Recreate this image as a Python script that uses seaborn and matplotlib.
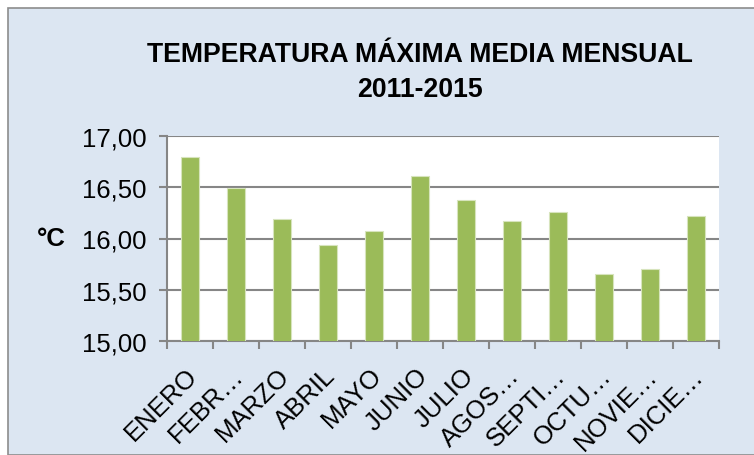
import numpy as np
import pandas as pd
import seaborn as sns
import matplotlib.pyplot as plt
import matplotlib.transforms as mtransforms
from matplotlib.ticker import FuncFormatter, FixedLocator
from matplotlib.patches import Rectangle

# Monthly mean max temperature, 2011-2015
months = ["ENERO", "FEBR…", "MARZO", "ABRIL", "MAYO", "JUNIO",
          "JULIO", "AGOS…", "SEPTI…", "OCTU…", "NOVIE…", "DICIE…"]
temps = [16.80, 16.49, 16.19, 15.94, 16.07, 16.61,
         16.38, 16.17, 16.26, 15.65, 15.70, 16.22]
y_ticks = [15.0, 15.5, 16.0, 16.5, 17.0]

df = pd.DataFrame({"Mes": months, "Temp": temps})

sns.set_style("white")
plt.rcParams["font.family"] = ["Liberation Sans", "DejaVu Sans"]
plt.rcParams["text.color"] = "black"
plt.rcParams["xtick.color"] = "black"
plt.rcParams["ytick.color"] = "black"
plt.rcParams["axes.labelcolor"] = "black"

fig = plt.figure(figsize=(7.54, 4.56), dpi=100)
fig.patch.set_facecolor("white")
# chart area background with border
bg = Rectangle((8 / 754, 0), 1, 1 - 9 / 456, transform=fig.transFigure,
               facecolor="#DCE6F2", edgecolor="#8C8C8C", linewidth=1.2, zorder=-10)
fig.add_artist(bg)

ax = fig.add_axes([167 / 754, 1 - 341.7 / 456, (719 - 167) / 754, (341.7 - 137.3) / 456])
ax.set_zorder(5)
sns.barplot(data=df, x="Mes", y="Temp", color="#9BBB59", saturation=1, width=0.4,
            edgecolor="#D7E4BD", linewidth=0.8, ax=ax, zorder=3)

ax.set_ylim(15, 17)
ax.set_xlim(-0.5, 11.5)
ax.set_facecolor("white")
ax.yaxis.set_major_locator(FixedLocator(y_ticks))
ax.yaxis.set_major_formatter(FuncFormatter(lambda v, p: f"{v:.2f}".replace(".", ",")))
ax.grid(axis="y", color="#868686", linewidth=1.5, zorder=0)
ax.set_axisbelow(True)

for s in ["top", "right"]:
    ax.spines[s].set_visible(False)
for s in ["left", "bottom"]:
    ax.spines[s].set_color("#868686")
    ax.spines[s].set_linewidth(1.5)

ax.tick_params(axis="y", labelsize=18.5, length=6, width=1.5, color="#868686",
               direction="out", left=True, pad=9)
ax.set_xticks(np.arange(-0.5, 12, 1), minor=True)
ax.tick_params(axis="x", which="minor", length=6, width=1.5, color="#868686",
               direction="out", bottom=True)
ax.tick_params(axis="x", which="major", length=0, labelsize=18.5, pad=22)
shift = mtransforms.ScaledTranslation(4 / 100, 0, fig.dpi_scale_trans)
for lbl in ax.get_xticklabels():
    lbl.set_rotation(45)
    lbl.set_ha("right")
    lbl.set_va("center")
    lbl.set_rotation_mode("anchor")
    lbl.set_transform(lbl.get_transform() + shift)

ax.set_xlabel("")
ax.set_ylabel("°C", rotation=0, fontsize=18.5, fontweight="bold", labelpad=22, va="center")

fig.text(420 / 754, 1 - 55 / 456, "TEMPERATURA MÁXIMA MEDIA MENSUAL",
         ha="center", va="center", fontsize=19.2, fontweight="bold")
fig.text(420 / 754, 1 - 90 / 456, "2011-2015",
         ha="center", va="center", fontsize=19.2, fontweight="bold")

fig.savefig("out.png", dpi=100)
